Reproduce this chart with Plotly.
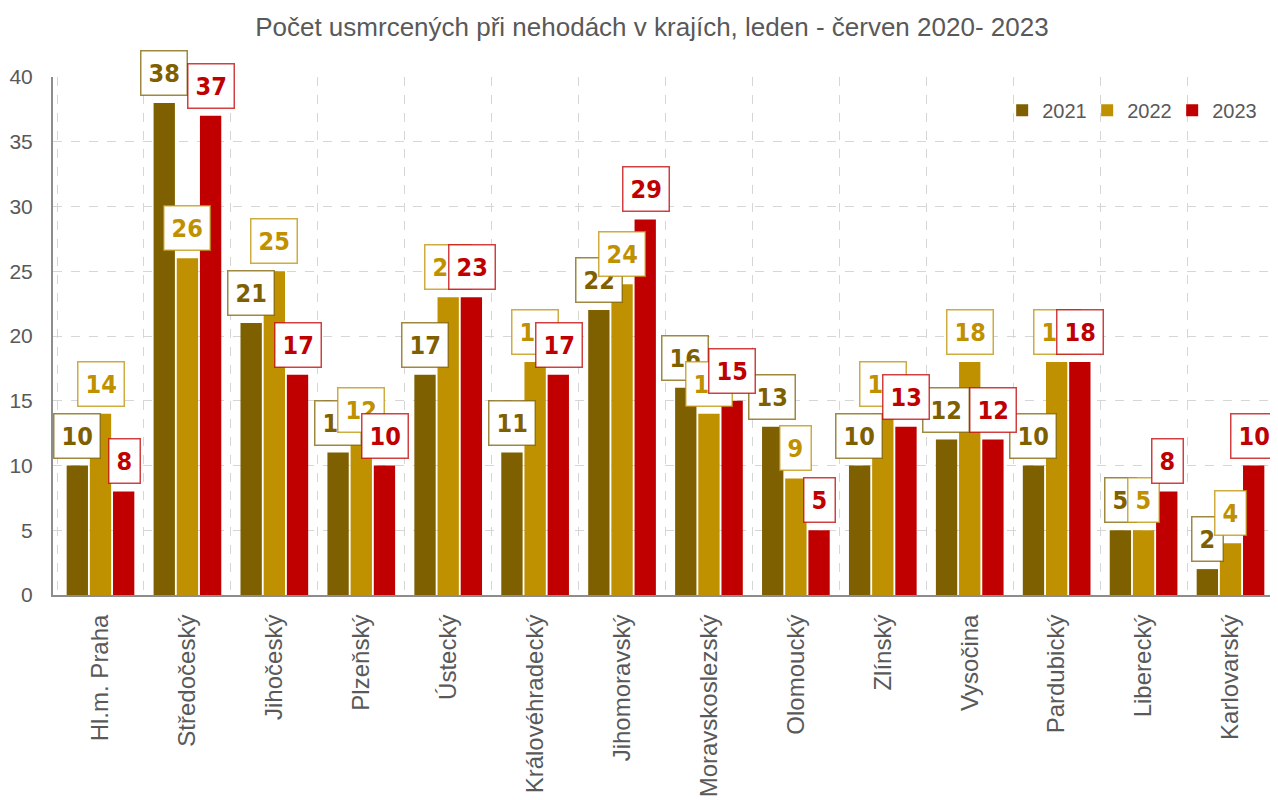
import plotly.graph_objects as go

kraje = ["Hl.m. Praha", "Středočeský", "Jihočeský", "Plzeňský", "Ústecký",
         "Královéhradecký", "Jihomoravský", "Moravskoslezský", "Olomoucký",
         "Zlínský", "Vysočina", "Pardubický", "Liberecký", "Karlovarský"]
r2021 = [10, 38, 21, 11, 17, 11, 22, 16, 13, 10, 12, 10, 5, 2]
r2022 = [14, 26, 25, 12, 23, 18, 24, 14, 9, 14, 18, 18, 5, 4]
r2023 = [8, 37, 17, 10, 23, 17, 29, 15, 5, 13, 12, 18, 8, 10]

roky = ["2021", "2022", "2023"]
barvy = ["#7F6000", "#BF9000", "#C00000"]
okraje = ["rgba(127,96,0,0.75)", "rgba(191,144,0,0.75)", "rgba(192,0,0,0.75)"]
serie = [r2021, r2022, r2023]

uzky = "DejaVu Sans Condensed, Liberation Sans Narrow, Arial Narrow, Liberation Sans"
font = "Liberation Sans, Arial"

fig = go.Figure()
for rok, hodnoty, barva in zip(roky, serie, barvy):
    fig.add_trace(go.Bar(x=kraje, y=hodnoty, name=rok, marker_color=barva,
                         marker_line_width=0))

# stitky v ramecku nad sloupci
posun = [-23.5, 0, 23.5]
for i, hodnoty in enumerate(serie):
    for k, v in zip(kraje, hodnoty):
        fig.add_annotation(x=k, y=v, text="<b>%d</b>" % v, showarrow=False,
                           xshift=posun[i], yshift=7, yanchor="bottom",
                           font=dict(family=uzky, size=25, color=barvy[i]),
                           bgcolor="white", bordercolor=okraje[i],
                           borderwidth=1.5, borderpad=7)

# stranka ma okraj 8 px, proto je obrazek posunuty
fig.update_layout(
    width=1270, height=792,
    paper_bgcolor="white", plot_bgcolor="white",
    margin=dict(l=45, r=0, t=69, b=205),
    barmode="group", bargap=0.2, bargroupgap=0.08,
    title=dict(text="Počet usmrcených při nehodách v krajích, leden - červen 2020- 2023",
               x=0.507, xanchor="center", y=0.976, yanchor="middle",
               font=dict(family=font, size=26, color="#595959")),
    font=dict(family=font, color="#595959"),
    legend=dict(orientation="h", x=0.983, xanchor="right", y=0.936, yanchor="middle",
                bgcolor="rgba(255,255,255,0)",
                font=dict(family=font, size=20, color="#595959"),
                itemwidth=30, entrywidth=40, traceorder="normal"),
    showlegend=True,
)
fig.update_xaxes(tickson="boundaries", showgrid=True, gridcolor="#d6d6d6",
                 griddash="dash", gridwidth=1, ticks="", tickangle=-90,
                 ticklabelstandoff=8,
                 showline=True, linecolor="#8c8c8c", linewidth=2, automargin=False,
                 tickfont=dict(family=font, size=24, color="#595959"))
fig.update_yaxes(range=[0, 40], dtick=5, showgrid=True, gridcolor="#d6d6d6",
                 griddash="dash", gridwidth=1, zeroline=False, automargin=False,
                 showline=True, linecolor="#8c8c8c", linewidth=2, ticks="",
                 ticklabelstandoff=14,
                 tickfont=dict(family=font, size=21, color="#595959"))

fig.write_html("out.html")
